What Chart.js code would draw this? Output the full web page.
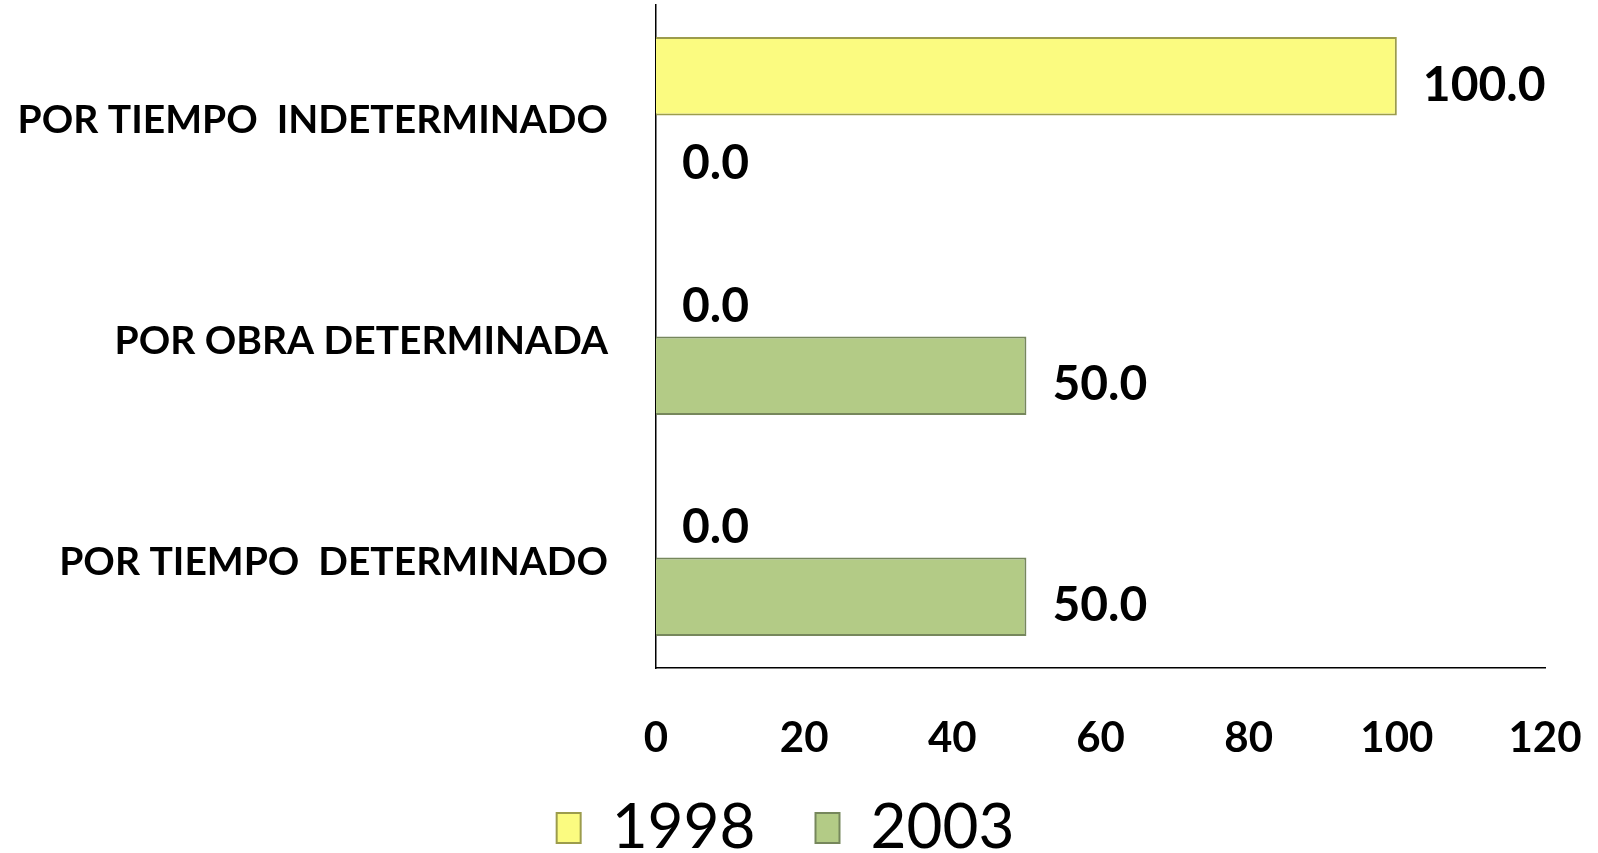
<!DOCTYPE html>
<html>
<head>
<meta charset="utf-8">
<script src="https://cdn.jsdelivr.net/npm/chart.js@4/dist/chart.umd.min.js"></script>
<style>
  html, body { margin: 0; padding: 0; background: #fff; }
  #wrap { width: 1598px; height: 853px; }
</style>
</head>
<body>
<div id="wrap"><canvas id="chart" width="1598" height="853"></canvas></div>
<script>
const categories = ['POR TIEMPO  INDETERMINADO', 'POR OBRA DETERMINADA', 'POR TIEMPO  DETERMINADO'];
const values1998 = [100, 0, 0];
const values2003 = [0, 50, 50];
const xTicks = [0, 20, 40, 60, 80, 100, 120];

const fontFamily = 'Lato, "Open Sans", sans-serif';

// value labels at the end of each bar
const barLabels = {
    id: 'barLabels',
    afterDatasetsDraw(chart) {
        const ctx = chart.ctx;
        ctx.save();
        ctx.font = 'bold 48px ' + fontFamily;
        ctx.fillStyle = '#000';
        ctx.textAlign = 'left';
        ctx.textBaseline = 'middle';
        chart.data.datasets.forEach((ds, i) => {
            chart.getDatasetMeta(i).data.forEach((bar, j) => {
                ctx.fillText(ds.data[j].toFixed(1), bar.x + 26, bar.y + 9);
            });
        });
        ctx.restore();
    }
};

// the legend sits tight under the tick labels, nudge it up a bit
const legendNudge = {
    id: 'legendNudge',
    afterLayout(chart) {
        const lg = chart.legend;
        lg.top -= 31;
        lg.bottom -= 31;
        lg.left += 13;
        lg.right += 13;
    }
};

const ctx = document.getElementById('chart').getContext('2d');
new Chart(ctx, {
    type: 'bar',
    data: {
        labels: categories,
        datasets: [{
            label: '1998',
            data: values1998,
            backgroundColor: '#fbfb80',
            borderColor: '#9c9c4c',
            borderWidth: 2
        }, {
            label: '2003',
            data: values2003,
            backgroundColor: '#b3cb86',
            borderColor: '#76875c',
            borderWidth: 2
        }]
    },
    options: {
        indexAxis: 'y',
        responsive: false,
        devicePixelRatio: 1,
        animation: false,
        layout: {
            padding: { left: 0, right: 53, top: 5, bottom: -47 }
        },
        datasets: {
            bar: { barPercentage: 1, categoryPercentage: 0.71 }
        },
        scales: {
            x: {
                min: 0,
                max: 120,
                afterBuildTicks: s => { s.ticks = xTicks.map(v => ({ value: v })); },
                afterFit: s => { s.height = 100; s.paddingLeft = 0; s.paddingRight = 0; },
                grid: { display: false, drawTicks: false },
                border: { display: true, color: '#000', width: 1.5 },
                ticks: {
                    color: '#000',
                    padding: 45,
                    maxRotation: 0,
                    font: { family: fontFamily, size: 42, weight: 'bold' }
                }
            },
            y: {
                afterFit: s => { s.width = 656; s.paddingTop = 0; s.paddingBottom = 0; },
                grid: { display: false, drawTicks: false },
                border: { display: true, color: '#000', width: 1.5 },
                ticks: {
                    color: '#000',
                    padding: 48,
                    labelOffset: 5,
                    font: { family: fontFamily, size: 39, weight: 'bold' }
                }
            }
        },
        plugins: {
            legend: {
                position: 'bottom',
                labels: {
                    color: '#000',
                    boxWidth: 24,
                    boxHeight: 30,
                    padding: 60,
                    font: { family: fontFamily, size: 62 }
                }
            },
            tooltip: { enabled: false }
        }
    },
    plugins: [barLabels, legendNudge]
});
</script>
</body>
</html>
